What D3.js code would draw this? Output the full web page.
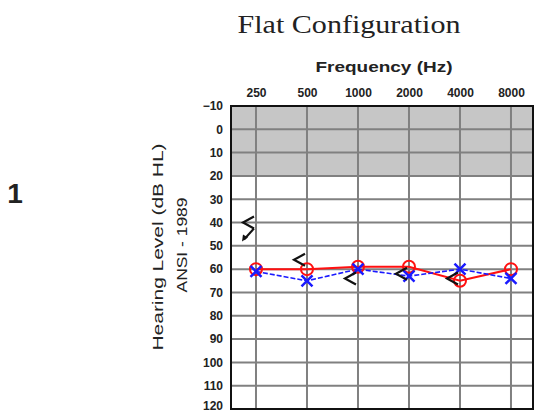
<!DOCTYPE html>
<html>
<head>
<meta charset="utf-8">
<script src="https://cdn.jsdelivr.net/npm/d3@7"></script>
<style>
  body { margin: 0; background: #fff; }
  svg { display: block; }
</style>
</head>
<body>
<div id="chart"></div>
<script>
var svgWidth = 536;
var svgHeight = 414;
var plot = { left: 231, top: 106, right: 533, bottom: 409 };

// data
var freqs = [250, 500, 1000, 2000, 4000, 8000];
var freqLabels = ["250", "500", "1000", "2000", "4000", "8000"];
var dbTicks = [-10, 0, 10, 20, 30, 40, 50, 60, 70, 80, 90, 100, 110, 120];
var rightAir = [60, 60, 59, 59, 65, 60];   // red O
var leftAir = [61, 65, 60, 63, 60, 64];    // blue X
var boneFreqs = [250, 500, 1000, 2000, 4000];
var boneDb = [40, 56, 64, 62, 64];         // black <
var boneNoResponse = [true, false, false, false, false];

var svg = d3.select("#chart")
    .append("svg")
    .attr("width", svgWidth)
    .attr("height", svgHeight);

// octave scale, plot frame reaches a half octave past the end freqs
var x = d3.scaleLog()
    .base(2)
    .domain([178, 10790])
    .range([plot.left, plot.right]);

var y = d3.scaleLinear()
    .domain([-10, 120])
    .range([plot.top, plot.bottom]);

// normal-hearing band shading
svg.append("rect")
    .attr("x", plot.left)
    .attr("y", y(-10))
    .attr("width", plot.right - plot.left)
    .attr("height", y(20) - y(-10))
    .attr("fill", "#c6c6c6");

// grid
svg.append("g")
    .selectAll("line")
    .data(dbTicks)
    .enter()
    .append("line")
    .attr("x1", plot.left)
    .attr("x2", plot.right)
    .attr("y1", d => y(d))
    .attr("y2", d => y(d))
    .attr("stroke", "#808080")
    .attr("stroke-width", 2);

svg.append("g")
    .selectAll("line")
    .data(freqs)
    .enter()
    .append("line")
    .attr("x1", d => x(d))
    .attr("x2", d => x(d))
    .attr("y1", plot.top)
    .attr("y2", plot.bottom)
    .attr("stroke", "#808080")
    .attr("stroke-width", 2);

// frame
svg.append("rect")
    .attr("x", plot.left)
    .attr("y", plot.top)
    .attr("width", plot.right - plot.left)
    .attr("height", plot.bottom - plot.top)
    .attr("fill", "none")
    .attr("stroke", "#111")
    .attr("stroke-width", 2);

// axes (top + left), domain/ticks hidden, labels only
var topAxis = d3.axisTop(x).tickValues(freqs).tickFormat((d, i) => freqLabels[i]).tickSize(0);
svg.append("g")
    .attr("transform", `translate(0, ${plot.top - 6})`)
    .call(topAxis)
    .call(g => g.select(".domain").remove())
    .selectAll("text")
    .attr("font-family", "Liberation Sans, Arial, sans-serif")
    .attr("font-size", 12)
    .attr("font-weight", "bold")
    .attr("fill", "#222");

var leftAxis = d3.axisLeft(y).tickValues(dbTicks).tickSize(0);
svg.append("g")
    .attr("transform", `translate(${plot.left - 5}, 0)`)
    .call(leftAxis)
    .call(g => g.select(".domain").remove())
    .selectAll("text")
    .attr("font-family", "Liberation Sans, Arial, sans-serif")
    .attr("font-size", 12)
    .attr("font-weight", "bold")
    .attr("fill", "#222")
    // keep the bottom label inside the window
    .attr("dy", d => d === 120 ? "0.05em" : "0.32em");

// lines
var line = d3.line()
    .x(d => x(d[0]))
    .y(d => y(d[1]));

svg.append("path")
    .datum(d3.zip(freqs, rightAir))
    .attr("d", line)
    .attr("fill", "none")
    .attr("stroke", "#ff1010")
    .attr("stroke-width", 2);

svg.append("path")
    .datum(d3.zip(freqs, leftAir))
    .attr("d", line)
    .attr("fill", "none")
    .attr("stroke", "#1a1aff")
    .attr("stroke-width", 1.6)
    .attr("stroke-dasharray", "5,2");

// right ear O
svg.append("g")
    .selectAll("circle")
    .data(d3.zip(freqs, rightAir))
    .enter()
    .append("circle")
    .attr("cx", d => x(d[0]))
    .attr("cy", d => y(d[1]))
    .attr("r", 6)
    .attr("fill", "none")
    .attr("stroke", "#ff1010")
    .attr("stroke-width", 2);

// left ear X
var xs = 5.5;
svg.append("g")
    .selectAll("path")
    .data(d3.zip(freqs, leftAir))
    .enter()
    .append("path")
    .attr("d", d => {
        var cx = x(d[0]), cy = y(d[1]);
        return `M${cx - xs},${cy - xs}L${cx + xs},${cy + xs}M${cx + xs},${cy - xs}L${cx - xs},${cy + xs}`;
    })
    .attr("stroke", "#1a1aff")
    .attr("stroke-width", 2.5);

// bone conduction <
var bone = svg.append("g")
    .selectAll("g")
    .data(d3.zip(boneFreqs, boneDb, boneNoResponse))
    .enter()
    .append("g")
    .attr("transform", d => `translate(${x(d[0]) - 8}, ${y(d[1])})`);

bone.append("path")
    .attr("d", "M6,-6L-5,0L6,6")
    .attr("fill", "none")
    .attr("stroke", "#111")
    .attr("stroke-width", 2.2);

bone.filter(d => d[2])
    .append("path")
    .attr("d", "M6,6L-4,17")
    .attr("stroke", "#111")
    .attr("stroke-width", 2);

bone.filter(d => d[2])
    .append("path")
    .attr("d", "M-6,19L-5,12L0,15Z")
    .attr("fill", "#111");

// titles
svg.append("text")
    .attr("x", 349)
    .attr("y", 33)
    .attr("text-anchor", "middle")
    .attr("font-family", "Liberation Serif, Times New Roman, serif")
    .attr("font-size", 26)
    .attr("textLength", 223)
    .attr("lengthAdjust", "spacingAndGlyphs")
    .attr("fill", "#222")
    .text("Flat Configuration");

svg.append("text")
    .attr("x", 384)
    .attr("y", 72)
    .attr("text-anchor", "middle")
    .attr("font-family", "Liberation Sans, Arial, sans-serif")
    .attr("font-size", 15)
    .attr("font-weight", "bold")
    .attr("textLength", 137)
    .attr("lengthAdjust", "spacingAndGlyphs")
    .attr("fill", "#222")
    .text("Frequency (Hz)");

svg.append("text")
    .attr("transform", "translate(163, 247) rotate(-90)")
    .attr("text-anchor", "middle")
    .attr("font-family", "Liberation Sans, Arial, sans-serif")
    .attr("font-size", 15)
    .attr("textLength", 207)
    .attr("lengthAdjust", "spacingAndGlyphs")
    .attr("fill", "#222")
    .text("Hearing Level (dB HL)");

svg.append("text")
    .attr("transform", "translate(187, 245) rotate(-90)")
    .attr("text-anchor", "middle")
    .attr("font-family", "Liberation Sans, Arial, sans-serif")
    .attr("font-size", 14)
    .attr("textLength", 95)
    .attr("lengthAdjust", "spacingAndGlyphs")
    .attr("fill", "#222")
    .text("ANSI - 1989");

svg.append("text")
    .attr("x", 15)
    .attr("y", 203)
    .attr("text-anchor", "middle")
    .attr("font-family", "Liberation Sans, Arial, sans-serif")
    .attr("font-size", 28)
    .attr("font-weight", "bold")
    .attr("fill", "#222")
    .text("1");
</script>
</body>
</html>
